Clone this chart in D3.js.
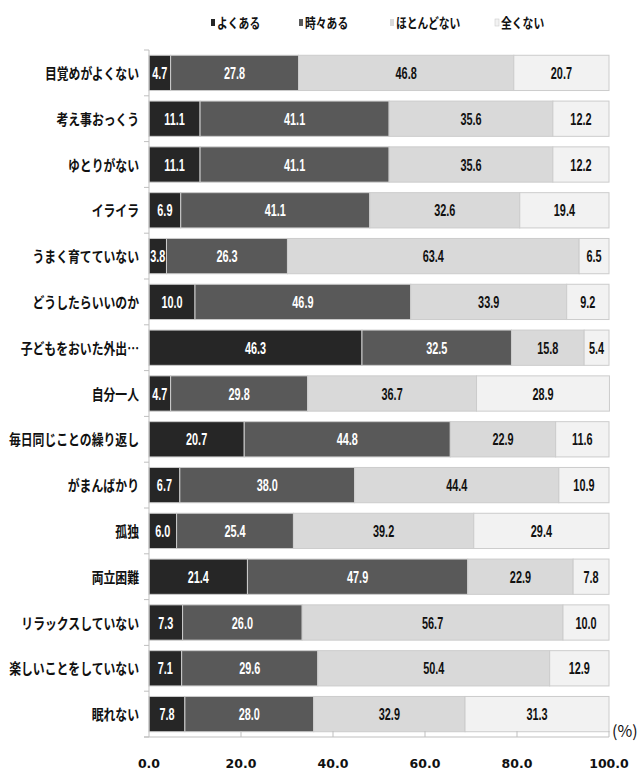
<!DOCTYPE html>
<html><head><meta charset="utf-8">
<script src="https://cdn.jsdelivr.net/npm/d3@7"></script>
<style>body{margin:0;background:#fff}</style>
</head><body>
<svg id="c" width="638" height="770"></svg>
<script>
const categories = ["目覚めがよくない","考え事おっくう","ゆとりがない","イライラ","うまく育てていない","どうしたらいいのか","子どもをおいた外出…","自分一人","毎日同じことの繰り返し","がまんばかり","孤独","両立困難","リラックスしていない","楽しいことをしていない","眠れない"];
const seriesNames = ["よくある","時々ある","ほとんどない","全くない"];
const often     = [4.7,11.1,11.1,6.9,3.8,10.0,46.3,4.7,20.7,6.7,6.0,21.4,7.3,7.1,7.8];
const sometimes = [27.8,41.1,41.1,41.1,26.3,46.9,32.5,29.8,44.8,38.0,25.4,47.9,26.0,29.6,28.0];
const rarely    = [46.8,35.6,35.6,32.6,63.4,33.9,15.8,36.7,22.9,44.4,39.2,22.9,56.7,50.4,32.9];
const never     = [20.7,12.2,12.2,19.4,6.5,9.2,5.4,28.9,11.6,10.9,29.4,7.8,10.0,12.9,31.3];
const xTicks = [0,20,40,60,80,100];

const colors = ["#262626","#595959","#d9d9d9","#f2f2f2"];
const textColors = ["#fff","#fff","#111","#111"];
const series = [often, sometimes, rarely, never];

const svg = d3.select("#c");
const x = d3.scaleLinear().domain([0,100]).range([149,609]);
const y = d3.scaleBand().domain(categories).range([50,737]).paddingInner(0.23).paddingOuter(0.115);

const rows = categories.map((c,i)=>{
  let acc=0;
  return series.map((s,k)=>{const v=s[i];const seg={cat:c,k,v,x0:acc,x1:acc+v};acc+=v;return seg;});
});

const g = svg.append("g");
rows.forEach(segs=>{
  g.selectAll(null).data(segs).enter().append("rect")
    .attr("x",d=>x(d.x0)).attr("y",d=>y(d.cat))
    .attr("width",d=>x(d.x1)-x(d.x0)).attr("height",y.bandwidth())
    .attr("fill",d=>colors[d.k]).attr("stroke","#cccccc").attr("stroke-width",1);
  g.selectAll(null).data(segs).enter().append("text")
    .attr("transform",d=>`translate(${x((d.x0+d.x1)/2)},${y(d.cat)+y.bandwidth()/2+6}) scale(0.66,1)`)
    .attr("text-anchor","middle")
    .attr("font-family","'Liberation Sans',sans-serif")
    .attr("font-weight","bold").attr("font-size",16.5)
    .attr("fill",d=>textColors[d.k])
    .text(d=>d.v.toFixed(1));
});

// left axis
svg.append("line").attr("x1",149).attr("x2",149).attr("y1",50).attr("y2",737).attr("stroke","#bfbfbf");
const bounds = categories.map(c=>y(c)-y.step()*y.paddingInner()/2).concat([737]);
bounds[0]=50;
svg.selectAll(".lt").data(bounds).enter().append("line")
  .attr("x1",144).attr("x2",149).attr("y1",d=>d).attr("y2",d=>d).attr("stroke","#bfbfbf");

// bottom axis
svg.append("line").attr("x1",144).attr("x2",609).attr("y1",737).attr("y2",737).attr("stroke","#bfbfbf");
svg.selectAll(".bt").data(xTicks.slice(1)).enter().append("line")
  .attr("x1",d=>x(d)).attr("x2",d=>x(d)).attr("y1",731).attr("y2",737).attr("stroke","#bfbfbf");
svg.selectAll(".bl").data(xTicks).enter().append("text")
  .attr("x",d=>x(d)).attr("y",768).attr("text-anchor","middle")
  .attr("font-family","'DejaVu Sans',sans-serif").attr("font-weight","bold").attr("font-size",12.5)
  .attr("fill","#111").text(d=>d.toFixed(1));
svg.append("text").attr("x",612).attr("y",737).attr("font-family","'Noto Sans CJK JP','Noto Sans',sans-serif")
  .attr("font-size",16).attr("fill","#111").text("(%)");

// category labels
svg.selectAll(".cl").data(categories).enter().append("text")
  .attr("transform",d=>`translate(139,${y(d)+y.bandwidth()/2+6}) scale(0.79,1)`)
  .attr("text-anchor","end")
  .attr("font-family","'Noto Sans CJK JP',sans-serif").attr("font-weight","bold").attr("font-size",15)
  .attr("fill","#111").text(d=>d);

// legend
const legX = [211,299,390,495];
const lg = svg.selectAll(".lg").data(seriesNames).enter().append("g")
  .attr("transform",(d,i)=>`translate(${legX[i]},0)`);
lg.append("rect").attr("x",0).attr("y",19).attr("width",4).attr("height",7)
  .attr("fill",(d,i)=>colors[i]).attr("stroke",(d,i)=>i===3?"#ccc":"none").attr("stroke-width",0.6);
lg.append("text").attr("transform","translate(6,27.5) scale(0.8,1)")
  .attr("font-family","'Noto Sans CJK JP',sans-serif").attr("font-weight","bold").attr("font-size",13.5)
  .attr("fill","#111").text(d=>d);
</script>
</body></html>
